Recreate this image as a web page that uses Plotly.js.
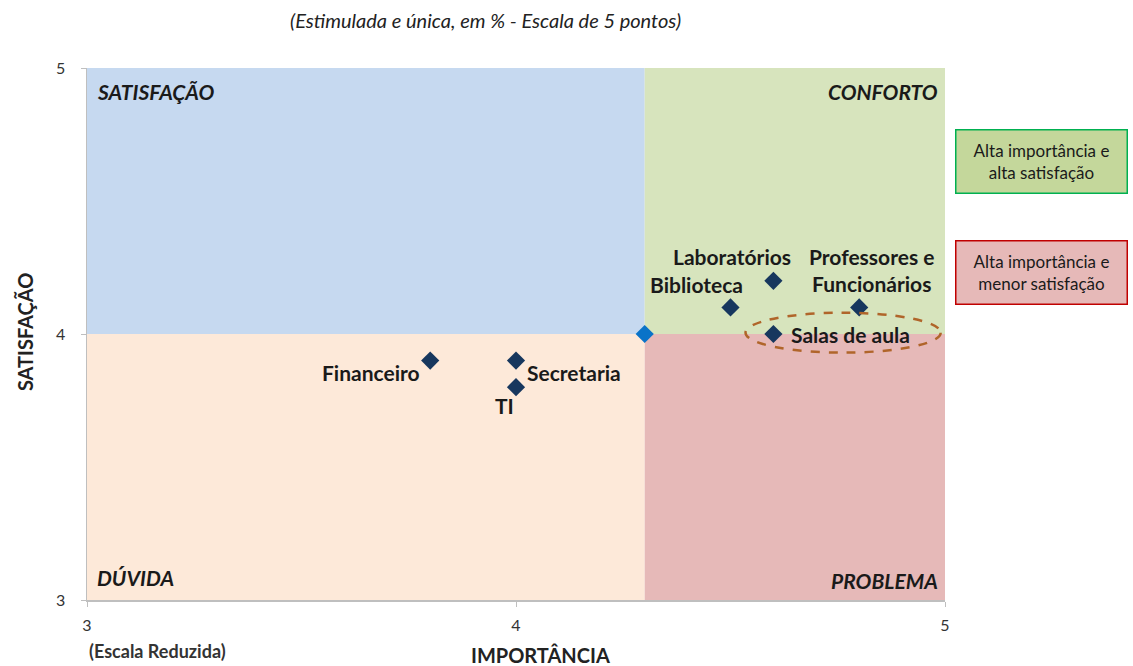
<!DOCTYPE html>
<html>
<head>
<meta charset="utf-8">
<script src="https://cdn.plot.ly/plotly-3.0.1.min.js"></script>
<style>
  html, body { margin: 0; padding: 0; background: #ffffff; }
  #chart { width: 1133px; height: 666px; }
</style>
</head>
<body>
<div id="chart"></div>
<script>
  "use strict";

  // data
  const items = ["Financeiro", "Secretaria", "TI", "Biblioteca", "Laboratórios", "Professores e<br>Funcionários", "Salas de aula"];
  const importancia = [3.8, 4.0, 4.0, 4.5, 4.6, 4.8, 4.6];
  const satisfacao = [3.9, 3.9, 3.8, 4.1, 4.2, 4.1, 4.0];

  const cutImportancia = 4.3;
  const cutSatisfacao = 4.0;

  const axisTicks = [3, 4, 5];

  const quadrants = [
    { label: "SATISFAÇÃO", color: "#c6d9f0" },
    { label: "CONFORTO", color: "#d7e4bd" },
    { label: "DÚVIDA", color: "#fde9d9" },
    { label: "PROBLEMA", color: "#e6b9b8" }
  ];

  const legendNotes = [
    { text: "Alta importância e<br>alta satisfação", fill: "#c4d79b", border: "#00b050" },
    { text: "Alta importância e<br>menor satisfação", fill: "#e6b9b8", border: "#c00000" }
  ];

  // label offsets in px (style only)
  const labelShift = [
    [-59, -12], [58, -12], [-12, -18], [-34, 23], [-41, 24], [12, 37], [77, 0]
  ];

  const FONT = "Lato, 'Open Sans', sans-serif";
  const DARK = "#1a1a1a";

  const shapes = [
    { type: "rect", layer: "below", xref: "x", yref: "y", x0: 3, x1: cutImportancia, y0: cutSatisfacao, y1: 5, fillcolor: quadrants[0].color, line: { width: 0 } },
    { type: "rect", layer: "below", xref: "x", yref: "y", x0: cutImportancia, x1: 5, y0: cutSatisfacao, y1: 5, fillcolor: quadrants[1].color, line: { width: 0 } },
    { type: "rect", layer: "below", xref: "x", yref: "y", x0: 3, x1: cutImportancia, y0: 3, y1: cutSatisfacao, fillcolor: quadrants[2].color, line: { width: 0 } },
    { type: "rect", layer: "below", xref: "x", yref: "y", x0: cutImportancia, x1: 5, y0: 3, y1: cutSatisfacao, fillcolor: quadrants[3].color, line: { width: 0 } },
    // dashed ellipse around "Salas de aula"
    { type: "circle", xref: "x", yref: "y", x0: 4.535, x1: 4.99, y0: 3.93, y1: 4.08, line: { color: "#b0652a", width: 2.5, dash: "dash" } }
  ];

  const annotations = [];

  // quadrant names
  const qFont = { family: FONT, size: 21, color: DARK };
  annotations.push(
    { xref: "x", yref: "y", x: 3, y: 5, xanchor: "left", yanchor: "top", xshift: 8, yshift: -9, showarrow: false, text: "<b><i>" + quadrants[0].label + "</i></b>", font: qFont },
    { xref: "x", yref: "y", x: 5, y: 5, xanchor: "right", yanchor: "top", xshift: -5, yshift: -9, showarrow: false, text: "<b><i>" + quadrants[1].label + "</i></b>", font: qFont },
    { xref: "x", yref: "y", x: 3, y: 3, xanchor: "left", yanchor: "bottom", xshift: 8, yshift: 8, showarrow: false, text: "<b><i>" + quadrants[2].label + "</i></b>", font: qFont },
    { xref: "x", yref: "y", x: 5, y: 3, xanchor: "right", yanchor: "bottom", xshift: -5, yshift: 5, showarrow: false, text: "<b><i>" + quadrants[3].label + "</i></b>", font: qFont }
  );

  // point labels
  items.forEach((name, i) => {
    annotations.push({
      xref: "x", yref: "y", x: importancia[i], y: satisfacao[i],
      xshift: labelShift[i][0], yshift: labelShift[i][1],
      showarrow: false, text: "<b>" + name + "</b>",
      font: { family: FONT, size: 21, color: DARK }
    });
  });

  // side notes
  legendNotes.forEach((n, i) => {
    annotations.push({
      xref: "paper", yref: "paper", x: 1.112, y: i === 0 ? 0.824 : 0.616,
      xanchor: "center", yanchor: "middle", showarrow: false,
      text: n.text, align: "center",
      width: 166, height: 58,
      bgcolor: n.fill, bordercolor: n.border, borderwidth: 1.5, borderpad: 2,
      font: { family: FONT, size: 17, color: DARK }
    });
  });

  // subtitle, axis titles and extra texts
  annotations.push(
    { xref: "paper", yref: "paper", x: 0.465, y: 1.09, xanchor: "center", yanchor: "middle", showarrow: false,
      text: "<i>(Estimulada e única, em % - Escala de 5 pontos)</i>", font: { family: FONT, size: 20, color: "#222222" } },
    { xref: "paper", yref: "paper", x: 0, y: -0.096, xanchor: "left", yanchor: "middle", showarrow: false,
      text: "<b>(Escala Reduzida)</b>", font: { family: FONT, size: 18, color: "#333333" } },
    { xref: "paper", yref: "paper", x: 0.529, y: -0.103, xanchor: "center", yanchor: "middle", showarrow: false,
      text: "<b>IMPORTÂNCIA</b>", font: { family: FONT, size: 20, color: "#222222" } },
    { xref: "paper", yref: "paper", x: -0.072, y: 0.504, xanchor: "center", yanchor: "middle", showarrow: false, textangle: -90,
      text: "<b>SATISFAÇÃO</b>", font: { family: FONT, size: 20, color: "#222222" } }
  );

  const traces = [
    {
      type: "scatter", mode: "markers",
      x: importancia, y: satisfacao, text: items,
      marker: { symbol: "diamond", size: 14, color: "#17375e" },
      hovertemplate: "%{text}<br>%{x} / %{y}<extra></extra>"
    },
    {
      type: "scatter", mode: "markers",
      x: [cutImportancia], y: [cutSatisfacao],
      marker: { symbol: "diamond", size: 14, color: "#0a73c8" },
      hoverinfo: "skip"
    }
  ];

  const layout = {
    width: 1133, height: 666,
    paper_bgcolor: "#ffffff", plot_bgcolor: "#ffffff",
    margin: { l: 87, r: 188, t: 68, b: 66 },
    showlegend: false,
    font: { family: FONT, color: "#404040" },
    xaxis: {
      range: [3, 5], tickvals: axisTicks, showgrid: false, zeroline: false,
      showline: true, linecolor: "#bfbfbf", linewidth: 1.5,
      ticks: "outside", ticklen: 5, tickcolor: "#bfbfbf",
      ticklabelstandoff: 5,
      tickfont: { family: FONT, size: 16, color: "#333333" }
    },
    yaxis: {
      range: [3, 5], tickvals: axisTicks, showgrid: false, zeroline: false,
      showline: true, linecolor: "#bfbfbf", linewidth: 1.5,
      ticks: "outside", ticklen: 5, tickcolor: "#bfbfbf",
      ticklabelstandoff: 12,
      tickfont: { family: FONT, size: 16, color: "#333333" }
    },
    shapes: shapes,
    annotations: annotations
  };

  Plotly.newPlot("chart", traces, layout, { displayModeBar: false, staticPlot: true });
</script>
</body>
</html>
